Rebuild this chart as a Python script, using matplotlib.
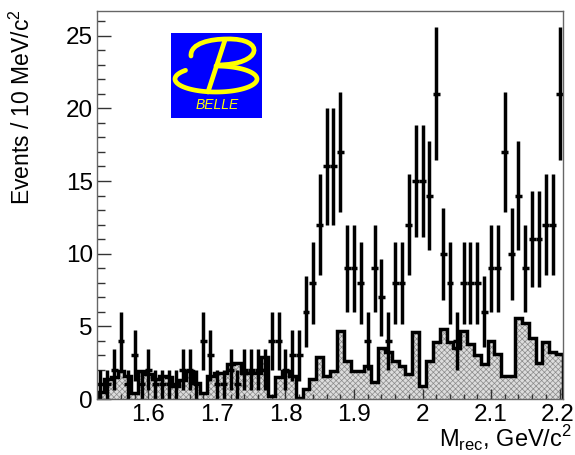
import numpy as np
import matplotlib
matplotlib.use('Agg')
import matplotlib.pyplot as plt
from matplotlib.path import Path
from matplotlib.patches import PathPatch
from matplotlib.ticker import MultipleLocator, FuncFormatter
from matplotlib.transforms import ScaledTranslation

# ---- data: 10 MeV bins from 1.525 to 2.205 GeV ----
bin_lo = 1.525
bin_w = 0.01
n_bins = 68

# data counts (points with sqrt(N) errors)
data_counts = [1, 1, 2, 4, 1, 3, 1, 2, 1, 1,
               1, 1, 2, 2, 1, 4, 3, 1, 1, 2,
               1, 2, 2, 2, 2, 4, 4, 2, 3, 3,
               6, 8, 12, 16, 16, 17, 9, 9, 8, 4,
               9, 7, 4, 8, 8, 12, 15, 15, 14, 21,
               10, 8, 4, 8, 8, 8, 6, 9, 9, 17,
               10, 14, 9, 11, 11, 12, 12, 21]

# hatched background histogram
bkg_counts = [0.5, 1.4, 1.5, 1.9, 1.6, 0.4, 1.9, 1.7, 1.4, 1.6,
              1.5, 0.9, 1.3, 1.9, 1.1, 0.4, 1.6, 1.8, 1.8, 2.4,
              2.5, 1.8, 1.8, 1.8, 2.9, 0.2, 1.5, 1.9, 1.6, 0.1,
              0.7, 1.4, 2.9, 1.6, 1.9, 4.7, 2.6, 1.9, 1.9, 2.3,
              1.2, 3.5, 3.2, 2.6, 2.3, 1.7, 4.6, 0.9, 2.6, 3.9,
              4.8, 3.9, 3.5, 4.7, 3.8, 3.0, 2.4, 4.0, 3.1, 1.6,
              1.6, 5.6, 5.2, 4.2, 2.5, 3.9, 3.2, 3.1]

x_ticks = [1.6, 1.7, 1.8, 1.9, 2.0, 2.1, 2.2]
y_ticks = [0, 5, 10, 15, 20, 25]

edges = bin_lo + bin_w * np.arange(n_bins + 1)
centers = 0.5 * (edges[:-1] + edges[1:])
data = np.array(data_counts, dtype=float)
bkg = np.array(bkg_counts)

plt.rcParams['font.family'] = ['Liberation Sans', 'DejaVu Sans']
plt.rcParams['hatch.linewidth'] = 0.5
plt.rcParams['hatch.color'] = '#8a8a8a'

fig = plt.figure(figsize=(5.75, 4.55), dpi=100)
ax = fig.add_axes([97/575, 56/455, 466/575, 388/455])

# hatched background
ax.stairs(bkg, edges, fill=True, facecolor='#dcdcdc', hatch='xxxxxx',
          edgecolor='#8a8a8a', linewidth=0, zorder=1)
ax.stairs(bkg, edges, baseline=0, color='black', linewidth=2.5, zorder=2)

# data points
m = data > 0
ax.errorbar(centers[m], data[m], yerr=np.sqrt(data[m]), xerr=bin_w / 2,
            fmt='none', ecolor='black', elinewidth=2.5, capsize=0, zorder=3)

ax.set_xlim(edges[0], edges[-1])
ax.set_ylim(0, 26.7)

ax.xaxis.set_minor_locator(MultipleLocator(0.02))
ax.set_xticks(x_ticks)
ax.xaxis.set_major_formatter(FuncFormatter(lambda v, p: '%g' % round(v, 2)))
ax.set_yticks(y_ticks)
ax.yaxis.set_minor_locator(MultipleLocator(1))

ax.tick_params(axis='both', which='both', direction='in', colors='#333333',
               labelcolor='black', labelsize=17.5, top=False, right=False)
ax.tick_params(axis='y', which='major', length=10, width=1, pad=3)
ax.tick_params(axis='y', which='minor', length=5.5, width=1)
ax.tick_params(axis='x', which='major', length=7, width=1, pad=3.5)
ax.tick_params(axis='x', which='minor', length=3.5, width=1)
for sp in ax.spines.values():
    sp.set_color('#666666')
    sp.set_linewidth(1)
    sp.set_zorder(4)

# nudge the 2.2 label a pixel left so it stays on the canvas
lab = ax.get_xticklabels()[-1]
lab.set_transform(lab.get_transform() + ScaledTranslation(-2/100, 0, fig.dpi_scale_trans))

fig.text(22/575, 1 - 9/455, 'Events / 10 MeV/c$^\\mathregular{2}$', fontsize=16.5,
         rotation=90, ha='center', va='top')
fig.text(572/575, 1/455, 'M$_\\mathregular{rec}$, GeV/c$^\\mathregular{2}$',
         fontsize=17, ha='right', va='bottom')

# Belle logo
lax = fig.add_axes([171/575, (455-118)/455, 91/575, 85/455])
lax.set_xlim(0, 91)
lax.set_ylim(85, 0)
lax.set_facecolor('#0000ff')
lax.set_xticks([])
lax.set_yticks([])
for sp in lax.spines.values():
    sp.set_visible(False)
yl = '#ffff00'
top = Path([(20, 23), (19, 10), (40, 6), (56, 6), (95, 5), (92, 32), (46, 32)],
           [Path.MOVETO, Path.CURVE4, Path.CURVE4, Path.CURVE4,
            Path.CURVE4, Path.CURVE4, Path.CURVE4])
lax.add_patch(PathPatch(top, fill=False, edgecolor=yl, lw=3.4, capstyle='round'))
lax.plot([54, 37], [7, 59], color=yl, lw=3.4, solid_capstyle='round')
t = np.radians(np.linspace(90, -222, 120))
lax.plot(45 + 41 * np.cos(t), 46 - 13 * np.sin(t), color=yl, lw=3.4,
         solid_capstyle='round')
lax.text(46, 72, 'BELLE', color=yl, fontsize=10, style='italic',
         ha='center', va='center')

fig.savefig('out.png', dpi=100)
